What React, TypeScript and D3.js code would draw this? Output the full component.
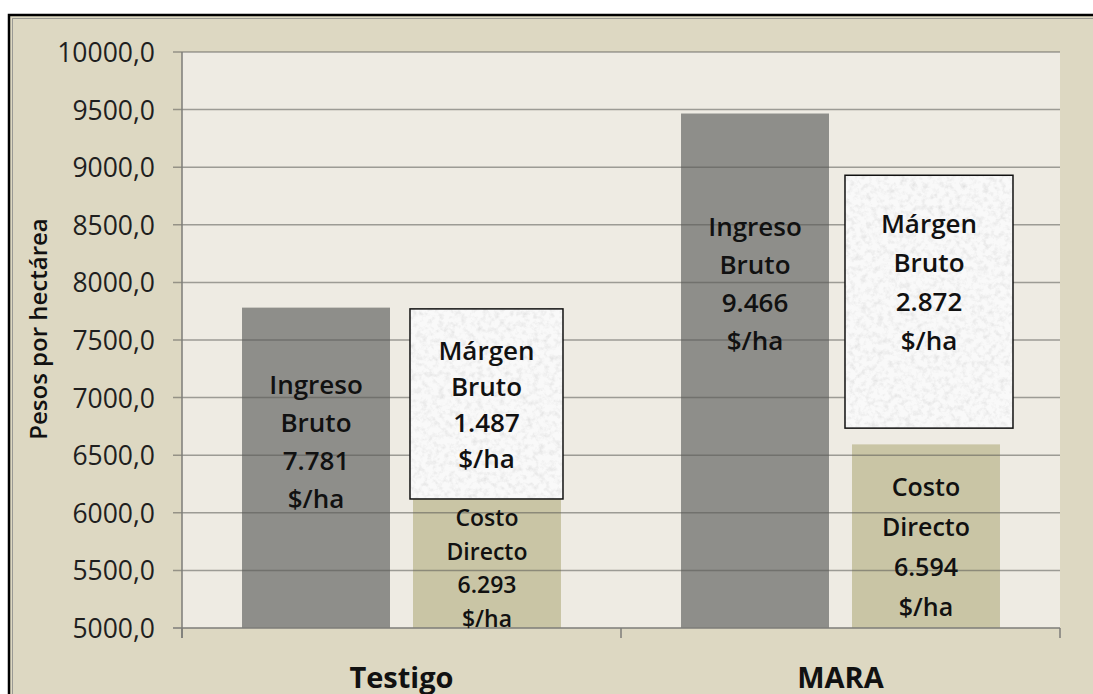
import React from "react";
import * as d3 from "d3";

const categories = ["Testigo", "MARA"];
const series = ["Ingreso Bruto", "Costo Directo"];
const ingresoBruto = [7781, 9466];
const costoDirecto = [6293, 6594];
const margenBruto = [1487, 2872];
// annotation boxes (value extents)
const margenBoxTop = [7770, 8930];
const margenBoxBottom = [6120, 6735];
const ingresoLabelCenter = [6623, 7995];
const yDomain = [5000, 10000];
const yTicks = [5000, 5500, 6000, 6500, 7000, 7500, 8000, 8500, 9000, 9500, 10000];
const yTitle = "Pesos por hectárea";
const unit = "$/ha";

const W = 1093;
const H = 694;
const FONT = "'Open Sans', 'Noto Sans', sans-serif";

const loc = d3.formatLocale({ decimal: ",", thousands: ".", grouping: [3], currency: ["$", ""] });
const fmtTick = loc.format(".1f");
const fmtVal = loc.format(",d");

export default function App() {
  const plot = { left: 182, right: 1060, top: 52, bottom: 628 };
  const y = d3.scaleLinear().domain(yDomain).range([plot.bottom, plot.top]);
  const x0 = d3.scaleBand<string>().domain(categories).range([plot.left, plot.right]).paddingInner(0).paddingOuter(0);
  const x1 = d3
    .scaleBand<string>()
    .domain(series)
    .range([0, x0.bandwidth()])
    .paddingInner(0.1345)
    .paddingOuter(0.351);
  const bw = x1.bandwidth();

  const label = (lines: string[], cx: number, cy: number, size: number, gap: number, keyp: string) =>
    lines.map((t, i) => (
      <text
        key={keyp + i}
        x={cx}
        y={cy + (i - (lines.length - 1) / 2) * gap}
        textAnchor="middle"
        dominantBaseline="central"
        fontFamily={FONT}
        fontWeight={600}
        fontSize={size}
        fill="#111"
      >
        {t}
      </text>
    ));

  return (
    <svg
      width={W}
      height={H}
      style={{ position: "fixed", left: 0, top: 0, display: "block", background: "#fff" }}
    >
      <defs>
        <filter id="speckle" x="0" y="0" width="1" height="1">
          <feTurbulence type="fractalNoise" baseFrequency="0.18" numOctaves="4" seed="7" result="noise" />
          <feColorMatrix
            in="noise"
            type="matrix"
            values="0 0 0 0 0.62  0 0 0 0 0.62  0 0 0 0 0.62  1.15 0 0 0 -0.5"
            result="spots"
          />
          <feMerge>
            <feMergeNode in="SourceGraphic" />
            <feMergeNode in="spots" />
          </feMerge>
        </filter>
      </defs>
      {/* outer frame */}
      <rect x={9} y={15} width={W + 20} height={H + 20} fill="#DDD8C2" stroke="#000" strokeWidth={2.5} />
      <rect x={12.5} y={18.5} width={W + 20} height={H + 20} fill="none" stroke="#9a9a94" strokeWidth={1} />
      {/* plot background */}
      <rect x={plot.left} y={plot.top} width={plot.right - plot.left} height={plot.bottom - plot.top} fill="#EEEBE3" />

      {/* bars */}
      {categories.map((c, i) => {
        const bx = x0(c)!;
        return (
          <g key={c}>
            <rect
              x={bx + x1(series[0])!}
              y={y(ingresoBruto[i])}
              width={bw}
              height={y(yDomain[0]) - y(ingresoBruto[i])}
              fill="#8E8E8A"
            />
            <rect
              x={bx + x1(series[1])!}
              y={y(costoDirecto[i])}
              width={bw}
              height={y(yDomain[0]) - y(costoDirecto[i])}
              fill="#C9C5A5"
            />
          </g>
        );
      })}

      {/* gridlines + ticks */}
      {yTicks.map((t) => (
        <g key={t}>
          <line
            x1={plot.left - 9}
            x2={plot.right}
            y1={y(t)}
            y2={y(t)}
            stroke={t === yDomain[0] ? "#7d7d78" : "rgba(90,90,85,0.55)"}
            strokeWidth={1.5}
          />
          <text
            x={155}
            y={y(t)}
            textAnchor="end"
            dominantBaseline="central"
            fontFamily={FONT}
            fontSize={26.5}
            fill="#1f1f1f"
          >
            {fmtTick(t)}
          </text>
        </g>
      ))}
      {/* y axis line */}
      <line x1={plot.left} x2={plot.left} y1={plot.top} y2={plot.bottom + 10} stroke="#7d7d78" strokeWidth={1.5} />
      {/* category ticks */}
      {[...categories.map((c) => x0(c)!), plot.right].map((xv, i) => (
        <line key={i} x1={xv} x2={xv} y1={plot.bottom} y2={plot.bottom + 10} stroke="#7d7d78" strokeWidth={1.5} />
      ))}

      {/* margen boxes + labels */}
      {categories.map((c, i) => {
        const bx = x0(c)!;
        const ix = bx + x1(series[0])! + bw / 2;
        const cxBar = bx + x1(series[1])!;
        const boxX = cxBar - (i === 0 ? 3 : 7);
        const boxW = bw + (i === 0 ? 5 : 20);
        const bt = y(margenBoxTop[i]);
        const bb = y(margenBoxBottom[i]);
        const costTop = Math.max(bb, y(costoDirecto[i]));
        return (
          <g key={"lab" + c}>
            <rect x={boxX} y={bt} width={boxW} height={bb - bt} fill="#F9F9F9" filter="url(#speckle)" />
            <rect x={boxX} y={bt} width={boxW} height={bb - bt} fill="none" stroke="#111" strokeWidth={1.5} />
            {label(["Ingreso", "Bruto", fmtVal(ingresoBruto[i]), unit], ix, y(ingresoLabelCenter[i]), 26, 38, "i" + i)}
            {label(["Márgen", "Bruto", fmtVal(margenBruto[i]), unit], boxX + boxW / 2, (bt + bb) / 2 - (i === 0 ? 0 : 20), 26, i === 0 ? 36 : 39, "m" + i)}
            {label(
              ["Costo", "Directo", fmtVal(costoDirecto[i]), unit],
              cxBar + bw / 2,
              (costTop + y(yDomain[0])) / 2 + (i === 0 ? 4 : 10),
              i === 0 ? 23 : 25,
              i === 0 ? 33.5 : 40,
              "c" + i
            )}
          </g>
        );
      })}

      {/* category labels */}
      {categories.map((c) => (
        <text
          key={"cat" + c}
          x={x0(c)! + x0.bandwidth() / 2}
          y={676}
          textAnchor="middle"
          dominantBaseline="central"
          fontFamily={FONT}
          fontWeight={700}
          fontSize={29}
          fill="#111"
        >
          {c}
        </text>
      ))}

      {/* y title */}
      <text
        transform={`translate(37, 329) rotate(-90)`}
        textAnchor="middle"
        dominantBaseline="central"
        fontFamily={FONT}
        fontWeight={600}
        fontSize={24}
        fill="#111"
      >
        {yTitle}
      </text>
    </svg>
  );
}
